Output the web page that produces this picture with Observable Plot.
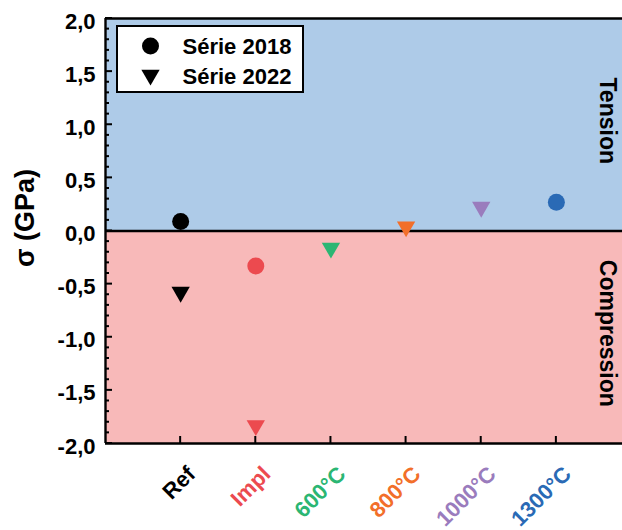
<!DOCTYPE html>
<html>
<head>
<meta charset="utf-8">
<script src="https://cdn.jsdelivr.net/npm/d3@7"></script>
<script src="https://cdn.jsdelivr.net/npm/@observablehq/plot@0.6"></script>
<style>
  html, body { margin: 0; padding: 0; background: #ffffff; }
</style>
</head>
<body>
<div id="chart"></div>
<script>
// ---- data ----
const categories = ["Ref", "Impl", "600°C", "800°C", "1000°C", "1300°C"];
const positions = [1, 2, 3, 4, 5, 6];
const catColors = ["#000000", "#ec4a4f", "#2bb673", "#f26f2a", "#9a7cbd", "#2a6ab5"];
const serie2018 = [0.09, -0.33, null, null, null, 0.27];
const serie2022 = [-0.575, -1.83, -0.16, 0.04, 0.225, null];
const yMajorTicks = [-2, -1.5, -1, -0.5, 0, 0.5, 1, 1.5, 2];
const yMinorTicks = d3.range(-20, 21).map(d => d / 10).filter(d => Math.abs(d * 2 - Math.round(d * 2)) > 1e-9);
const regionNames = ["Tension", "Compression"];
const regionLow = [0, -2];
const regionHigh = [2, 0];
const regionColors = ["#aecbe8", "#f8b9b9"];
const legendNames = ["Série 2018", "Série 2022"];
const legendSymbols = ["circle", "triangle"];

const font = "'Liberation Sans', Arial, Helvetica, sans-serif";
const xDomain = [0, 6.88];
const yDomain = [-2, 2];

const rows = categories.map((c, i) => ({
  cat: c, pos: positions[i], color: catColors[i], s18: serie2018[i], s22: serie2022[i]
}));
const regions = regionNames.map((n, i) => ({name: n, lo: regionLow[i], hi: regionHigh[i], color: regionColors[i]}));

// Inward tick marks, placed through the plot's own scales
function inwardTicks(index, scales, values, dimensions) {
  const g = d3.create("svg:g").attr("stroke", "black").attr("stroke-width", 2);
  const left = dimensions.marginLeft;
  const bottom = dimensions.height - dimensions.marginBottom;
  for (const t of yMajorTicks) {
    const y = scales.y(t);
    g.append("line").attr("x1", left).attr("x2", left + 7).attr("y1", y).attr("y2", y);
  }
  for (const t of yMinorTicks) {
    const y = scales.y(t);
    g.append("line").attr("x1", left).attr("x2", left + 4).attr("y1", y).attr("y2", y);
  }
  for (const p of positions) {
    const x = scales.x(p);
    g.append("line").attr("x1", x).attr("x2", x).attr("y1", bottom).attr("y2", bottom - 7);
  }
  return g.node();
}

function legendBox(index, scales, values, dimensions) {
  const g = d3.create("svg:g");
  g.append("rect")
    .attr("x", dimensions.marginLeft + 12)
    .attr("y", dimensions.marginTop + 8)
    .attr("width", 186)
    .attr("height", 66)
    .attr("fill", "white")
    .attr("stroke", "black")
    .attr("stroke-width", 2);
  return g.node();
}

const chart = Plot.plot({
  width: 622,
  height: 530,
  marginLeft: 105,
  marginRight: 0,
  marginTop: 18,
  marginBottom: 87,
  style: {fontFamily: font, fontWeight: "bold", background: "white"},
  x: {domain: xDomain, axis: null},
  y: {domain: yDomain, axis: null},
  marks: [
    Plot.rect(regions, {y1: "lo", y2: "hi", fill: "color"}),
    // Frame lines
    Plot.ruleY([yDomain[1], 0, yDomain[0]], {stroke: "black", strokeWidth: 2.4}),
    Plot.ruleX([xDomain[0]], {stroke: "black", strokeWidth: 2.4}),
    inwardTicks,
    Plot.axisY({ticks: yMajorTicks, tickSize: 0, tickPadding: 10, dy: 3,
      tickFormat: d => d.toFixed(1).replace(".", ","), fontSize: 22, fontWeight: "bold", label: null}),
    // X labels
    Plot.text(rows, {x: "pos", frameAnchor: "bottom", text: "cat", fill: "color", rotate: -45,
      textAnchor: "end", lineAnchor: "bottom", dx: 16, dy: 32, fontSize: 22, fontWeight: "bold"}),
    // Data
    Plot.dot(rows, {x: "pos", y: "s18", fill: "color", r: 8.5, symbol: "circle"}),
    Plot.dot(rows, {x: "pos", y: "s22", fill: "color", r: 6.8, symbol: "triangle", rotate: 180}),
    // Region labels
    Plot.text(regions, {y: d => (d.lo + d.hi) / 2, frameAnchor: "right", textAnchor: "middle", dx: -15, dy: -4, text: "name",
      rotate: 90, fontSize: 23, fontWeight: "bold", fill: "black"}),
    // Y label
    Plot.text(["σ (GPa)"], {frameAnchor: "left", textAnchor: "middle", dx: -80, dy: -13, rotate: -90, fontSize: 27, fontWeight: "bold", fill: "black"}),
    // Legend
    legendBox,
    Plot.dot([legendNames[0]], {frameAnchor: "top-left", dx: 45, dy: 27.5, r: 8.5, symbol: legendSymbols[0], fill: "black"}),
    Plot.dot([legendNames[1]], {frameAnchor: "top-left", dx: 45, dy: 56.5, r: 6.8, symbol: legendSymbols[1], rotate: 180, fill: "black"}),
    Plot.text([legendNames[0]], {frameAnchor: "top-left", dx: 77, dy: 35.5, text: d => d, textAnchor: "start", lineAnchor: "bottom", fontSize: 22, fontWeight: "bold", fill: "black"}),
    Plot.text([legendNames[1]], {frameAnchor: "top-left", dx: 77, dy: 65.5, text: d => d, textAnchor: "start", lineAnchor: "bottom", fontSize: 22, fontWeight: "bold", fill: "black"})
  ]
});
document.getElementById("chart").appendChild(chart);
</script>
</body>
</html>
